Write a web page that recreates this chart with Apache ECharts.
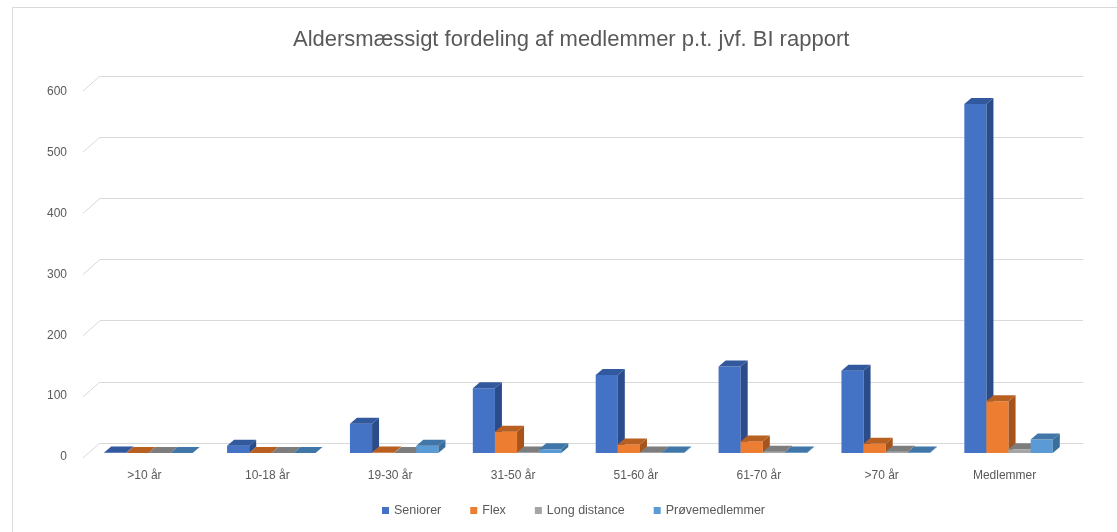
<!DOCTYPE html>
<html>
<head>
<meta charset="utf-8">
<script src="https://cdn.jsdelivr.net/npm/echarts@6/dist/echarts.min.js"></script>
<style>
  html, body { margin: 0; padding: 0; background: #fff; }
  #chart { width: 1117px; height: 532px; }
</style>
</head>
<body>
<div id="chart"></div>
<script>
// data
const categories = ['>10 år', '10-18 år', '19-30 år', '31-50 år', '51-60 år', '61-70 år', '>70 år', 'Medlemmer'];
const seniorer = [1, 12, 48, 106, 128, 142, 135, 572];
const flex = [0, 0, 1, 35, 14, 19, 15, 85];
const longDistance = [0, 0, 0, 1, 1, 2, 2, 6];
const proevemedlemmer = [0, 0, 12, 6, 1, 1, 1, 22];
const yTicks = [0, 100, 200, 300, 400, 500, 600];

const font = 'Liberation Sans, Arial, sans-serif';
const textColor = '#595959';
const gridColor = '#d9d9d9';

// one custom 3d-ish bar per series: front face, right side, top
function barRenderer(k, front, side, top) {
  return function (params, api) {
    const idx = api.value(0);
    const val = api.value(1);
    const base = api.coord([idx, 0]);
    const tip = api.coord([idx, val]);
    const band = api.size([1, 0])[0];
    const w = band * 0.18;
    const x0 = base[0] - 2 * w + k * w;
    const dx = 7, dy = 6;
    return {
      type: 'group',
      children: [
        {
          type: 'rect',
          shape: { x: x0, y: tip[1], width: w, height: base[1] - tip[1] },
          style: { fill: front }
        },
        {
          type: 'polygon',
          shape: { points: [[x0 + w, tip[1]], [x0 + w + dx, tip[1] - dy], [x0 + w + dx, base[1] - dy], [x0 + w, base[1]]] },
          style: { fill: side }
        },
        {
          type: 'polygon',
          shape: { points: [[x0, tip[1]], [x0 + dx, tip[1] - dy], [x0 + w + dx, tip[1] - dy], [x0 + w, tip[1]]] },
          style: { fill: top }
        }
      ]
    };
  };
}

function toData(arr) {
  return arr.map(function (v, i) { return [i, v]; });
}

let myChart = echarts.init(document.getElementById('chart'));
let option = {
  backgroundColor: '#fff',
  animation: false,
  title: {
    text: 'Aldersmæssigt fordeling af medlemmer p.t. jvf. BI rapport',
    left: 288,
    top: 24,
    textStyle: { fontFamily: font, fontSize: 22, fontWeight: 'normal', color: textColor }
  },
  graphic: [
    {
      type: 'rect',
      shape: { x: 12.5, y: 7.5, width: 1200, height: 600 },
      style: { fill: 'none', stroke: gridColor, lineWidth: 1 },
      silent: true
    }
  ],
  legend: {
    bottom: 10,
    left: 377,
    icon: 'rect',
    itemWidth: 7,
    itemHeight: 7,
    itemGap: 29,
    textStyle: { fontFamily: font, fontSize: 12.5, color: textColor },
    data: ['Seniorer', 'Flex', 'Long distance', 'Prøvemedlemmer']
  },
  grid: [
    // back wall
    { left: 100, right: 34, top: 76, bottom: 89 },
    // front plane (labels)
    { left: 83, right: 51, top: 92, bottom: 75 },
    // bars
    { left: 87, right: 47, top: 87, bottom: 79 }
  ],
  xAxis: [
    { gridIndex: 0, type: 'category', data: categories, show: false },
    {
      gridIndex: 1, type: 'category', data: categories,
      axisLine: { show: false }, axisTick: { show: false },
      axisLabel: { fontFamily: font, fontSize: 12, color: textColor, margin: 13 }
    },
    { gridIndex: 2, type: 'category', data: categories, show: false }
  ],
  yAxis: [
    {
      gridIndex: 0, type: 'value', min: 0, max: 600, interval: 100,
      axisLine: { show: false }, axisTick: { show: false }, axisLabel: { show: false },
      splitLine: { lineStyle: { color: gridColor, width: 1 } }
    },
    {
      gridIndex: 1, type: 'value', min: 0, max: 600, interval: 100,
      axisLine: { show: false }, axisTick: { show: false }, splitLine: { show: false },
      axisLabel: { fontFamily: font, fontSize: 12, color: textColor, margin: 16 }
    },
    { gridIndex: 2, type: 'value', min: 0, max: 600, show: false, splitLine: { show: false } }
  ],
  series: [
    {
      // slanted end of each gridline, from back wall to front
      type: 'custom',
      xAxisIndex: 0,
      yAxisIndex: 0,
      silent: true,
      data: yTicks.map(function (v) { return [0, v]; }),
      renderItem: function (params, api) {
        const p = api.coord([0, api.value(1)]);
        const x = params.coordSys.x;
        return {
          type: 'line',
          shape: { x1: x, y1: p[1], x2: x - 17, y2: p[1] + 15 },
          style: { stroke: gridColor, lineWidth: 1 }
        };
      }
    },
    {
      name: 'Seniorer', type: 'custom', xAxisIndex: 2, yAxisIndex: 2,
      itemStyle: { color: '#4472C4' },
      data: toData(seniorer),
      renderItem: barRenderer(0, '#4472C4', '#2B4C8A', '#32589E')
    },
    {
      name: 'Flex', type: 'custom', xAxisIndex: 2, yAxisIndex: 2,
      itemStyle: { color: '#ED7D31' },
      data: toData(flex),
      renderItem: barRenderer(1, '#ED7D31', '#A6541C', '#B85F22')
    },
    {
      name: 'Long distance', type: 'custom', xAxisIndex: 2, yAxisIndex: 2,
      itemStyle: { color: '#A5A5A5' },
      data: toData(longDistance),
      renderItem: barRenderer(2, '#A5A5A5', '#6E6E6E', '#7D7D7D')
    },
    {
      name: 'Prøvemedlemmer', type: 'custom', xAxisIndex: 2, yAxisIndex: 2,
      itemStyle: { color: '#5B9BD5' },
      data: toData(proevemedlemmer),
      renderItem: barRenderer(3, '#5B9BD5', '#3A6E9C', '#4177A8')
    }
  ]
};
myChart.setOption(option);
</script>
</body>
</html>
